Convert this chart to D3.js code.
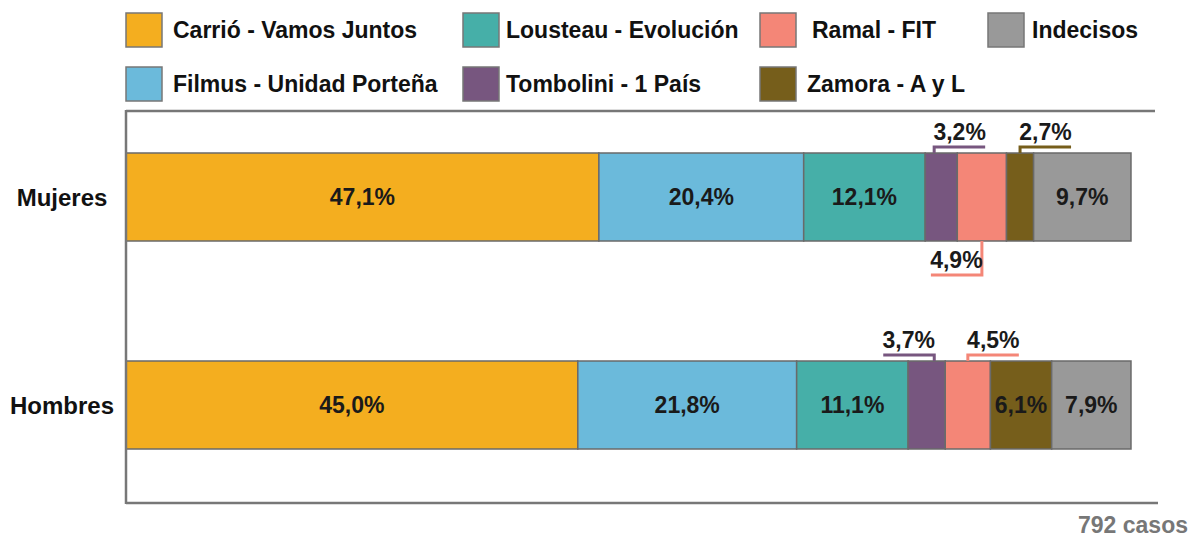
<!DOCTYPE html>
<html><head><meta charset="utf-8">
<script src="https://cdn.jsdelivr.net/npm/d3@7"></script>
<style>
html,body{margin:0;padding:0;background:#fff;}
svg{display:block;font-family:"Liberation Sans",Arial,sans-serif;font-weight:bold;}
</style></head>
<body><svg id="c" width="1194" height="539"></svg>
<script>
const categories = ["Mujeres", "Hombres"];
const seriesNames = ["Carrió - Vamos Juntos", "Filmus - Unidad Porteña", "Lousteau - Evolución", "Tombolini - 1 País", "Ramal - FIT", "Zamora - A y L", "Indecisos"];
const seriesKeys = ["Carrio", "Filmus", "Lousteau", "Tombolini", "Ramal", "Zamora", "Indecisos"];
const mujeresValues = [47.1, 20.4, 12.1, 3.2, 4.9, 2.7, 9.7];
const hombresValues = [45.0, 21.8, 11.1, 3.7, 4.5, 6.1, 7.9];
const colors = ["#F4AE1F", "#6BBADB", "#46AFA8", "#77567F", "#F48677", "#765E1B", "#999999"];
const legendOrder = ["Carrio", "Lousteau", "Ramal", "Indecisos", "Filmus", "Tombolini", "Zamora"];
const footnote = "792 casos";

const values = {Mujeres: mujeresValues, Hombres: hombresValues};
const fmt = v => d3.format(".1f")(v).replace(".", ",") + "%";

// callout layout (presentation only)
const callouts = {
  "Mujeres|Tombolini": {side: "top", dir: 1, anchor: "start"},
  "Mujeres|Ramal": {side: "bottom", dir: -1, anchor: "center"},
  "Mujeres|Zamora": {side: "top", dir: 1, anchor: "center"},
  "Hombres|Tombolini": {side: "top", dir: -1, anchor: "end"},
  "Hombres|Ramal": {side: "top", dir: 1, anchor: "center"}
};

const svg = d3.select("#c");
const x = d3.scaleLinear().domain([0, 100.4]).range([126, 1134]);
const y = d3.scalePoint().domain(categories).range([197, 405]);
const barH = 88;
const color = d3.scaleOrdinal().domain(seriesKeys).range(colors);

// frame lines
svg.append("line").attr("x1", 126).attr("x2", 1155).attr("y1", 111).attr("y2", 111).attr("stroke", "#777").attr("stroke-width", 2.5);
svg.append("line").attr("x1", 126).attr("x2", 1158).attr("y1", 503).attr("y2", 503).attr("stroke", "#777").attr("stroke-width", 2.5);

// legend
const legPos = {
  Carrio: [126, 30, 173], Lousteau: [463, 30, 506], Ramal: [760, 30, 812], Indecisos: [988, 30, 1032],
  Filmus: [126, 84, 173], Tombolini: [463, 84, 506], Zamora: [760, 84, 807]
};
const leg = svg.append("g");
legendOrder.forEach(k => {
  const i = seriesKeys.indexOf(k);
  const p = legPos[k];
  leg.append("rect").attr("x", p[0]).attr("y", p[1] - 17).attr("width", 36).attr("height", 34)
    .attr("fill", color(k)).attr("stroke", "#777").attr("stroke-width", 1.5);
  leg.append("text").attr("x", p[2]).attr("y", p[1]).attr("dy", "0.36em")
    .attr("font-size", 23).attr("fill", "#111").text(seriesNames[i]);
});

// bars
categories.forEach(cat => {
  const vals = values[cat];
  const stacked = [];
  let acc = 0;
  vals.forEach((v, i) => { stacked.push({key: seriesKeys[i], v, x0: acc, x1: acc + v}); acc += v; });
  const g = svg.append("g");
  const top = y(cat) - barH / 2, bot = y(cat) + barH / 2;
  g.selectAll("rect").data(stacked).join("rect")
    .attr("x", d => x(d.x0)).attr("width", d => x(d.x1) - x(d.x0))
    .attr("y", top).attr("height", barH)
    .attr("fill", d => color(d.key)).attr("stroke", "#6a6a6a").attr("stroke-width", 1.5);
  stacked.forEach(d => {
    const co = callouts[cat + "|" + d.key];
    const a = x(d.x0), b = x(d.x1), mid = (a + b) / 2;
    if (!co) {
      g.append("text").attr("x", mid).attr("y", y(cat)).attr("dy", "0.36em")
        .attr("text-anchor", "middle").attr("font-size", 23).attr("fill", "#1a1a1a").text(fmt(d.v));
    } else {
      let vx = mid;
      if (co.anchor === "start") vx = a + 9;
      if (co.anchor === "end") vx = b - 11;
      const len = 51;
      const hx = vx + co.dir * len;
      const ly = co.side === "top" ? top - 6 : bot + 34;
      const by = co.side === "top" ? top : bot;
      g.append("path").attr("d", `M${vx},${by}V${ly}H${hx}`)
        .attr("fill", "none").attr("stroke", color(d.key)).attr("stroke-width", 3);
      g.append("text").attr("x", (vx + hx) / 2).attr("y", ly - 7)
        .attr("text-anchor", "middle").attr("font-size", 23).attr("fill", "#1a1a1a").text(fmt(d.v));
    }
  });
  svg.append("text").attr("x", 62).attr("y", y(cat)).attr("dy", "0.36em").attr("text-anchor", "middle")
    .attr("font-size", 24).attr("fill", "#111").text(cat);
});

// left axis line
svg.append("line").attr("x1", 126).attr("x2", 126).attr("y1", 110).attr("y2", 504).attr("stroke", "#777").attr("stroke-width", 2.5);

svg.append("text").attr("x", 1188).attr("y", 533).attr("text-anchor", "end")
  .attr("font-size", 23).attr("fill", "#777").text(footnote);
</script></body></html>
